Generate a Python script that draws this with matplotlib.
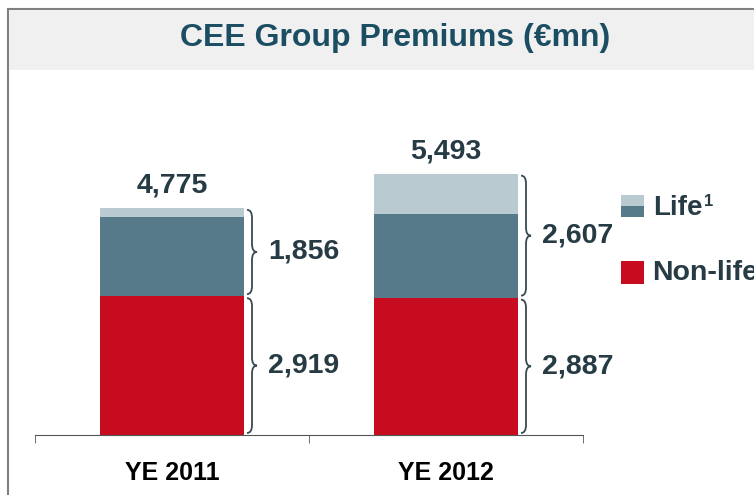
import matplotlib.pyplot as plt
import numpy as np
from matplotlib.patches import Rectangle, PathPatch
from matplotlib.path import Path

plt.rcParams['font.family'] = ['Liberation Sans', 'DejaVu Sans']

years = ["YE 2011", "YE 2012"]
non_life = [2919, 2887]
life = [1856, 2607]
life_light = [195, 840]
totals = [4775, 5493]

red = "#c80c1f"
teal = "#567a8a"
light = "#b9cbd1"
txt = "#263b44"

W, H = 754, 495
fig = plt.figure(figsize=(W / 100, H / 100), dpi=100)

# title band + frame
fig.patches.append(Rectangle((8 / W, -0.1), 1, (H - 9) / H + 0.1, transform=fig.transFigure,
                             facecolor="white", edgecolor="#808080", lw=1.5, zorder=-2))
fig.patches.append(Rectangle((9 / W, (H - 70) / H), 1, 60 / H, transform=fig.transFigure,
                             facecolor="#f0f0f0", edgecolor="none", zorder=-1))
fig.text(395 / W, 1 - 38 / H, "CEE Group Premiums (€mn)", ha="center", va="center",
         fontsize=23, fontweight="bold", color="#1b4e63")

ax = fig.add_axes([35 / W, 60 / H, 548 / W, 365 / H])
ax.patch.set_alpha(0)
ax.set_xlim(-0.5, 1.5)
ax.set_ylim(0, 365 * 21.02)

x = np.arange(len(years))
bw = 144 / 274
life_dark = [l - s for l, s in zip(life, life_light)]
ax.bar(x, non_life, bw, color=red)
ax.bar(x, life_dark, bw, bottom=non_life, color=teal)
ax.bar(x, life_light, bw, bottom=[n + d for n, d in zip(non_life, life_dark)], color=light)

px = 2 / 548          # data units per pixel in x
py = 21.02            # data units per pixel in y


def brace(x0, y0, y1, w=10 * px):
    ym = (y0 + y1) / 2
    r = min(8 * py, (y1 - y0) / 4)
    xm = x0 + w / 2
    verts = [(x0, y0), (xm, y0), (xm, y0 + r),
             (xm, ym - r), (xm, ym), (x0 + w, ym),
             (xm, ym), (xm, ym + r),
             (xm, y1 - r), (xm, y1), (x0, y1)]
    codes = [Path.MOVETO, Path.CURVE3, Path.CURVE3,
             Path.LINETO, Path.CURVE3, Path.CURVE3,
             Path.CURVE3, Path.CURVE3,
             Path.LINETO, Path.CURVE3, Path.CURVE3]
    ax.add_patch(PathPatch(Path(verts, codes), facecolor="none", edgecolor="#3a4a52", lw=1.3))


for i in range(len(years)):
    xr = x[i] + bw / 2 + 3 * px
    brace(xr, 2 * py, non_life[i] - 2 * py)
    brace(xr, non_life[i] + 2 * py, non_life[i] + life[i] - 2 * py)
    ax.text(xr + 21 * px, non_life[i] / 2, f"{non_life[i]:,}", ha="left", va="center",
            fontsize=20.5, fontweight="bold", color=txt)
    ax.text(xr + 21 * px, non_life[i] + life[i] / 2, f"{life[i]:,}", ha="left", va="center",
            fontsize=20.5, fontweight="bold", color=txt)
    ax.text(x[i], totals[i] + 9 * py, f"{totals[i]:,}", ha="center", va="bottom",
            fontsize=20.5, fontweight="bold", color=txt)

for s in ["top", "right", "left"]:
    ax.spines[s].set_visible(False)
ax.spines["bottom"].set_color("#555555")
ax.set_yticks([])
ax.set_xticks(x)
ax.set_xticklabels(years, fontsize=18, fontweight="bold", color="black")
ax.tick_params(axis="x", length=0, pad=19)
ax.set_xticks([-0.5, 0.5, 1.5], minor=True)
ax.tick_params(axis="x", which="minor", length=6, color="#555555", direction="out")

# legend
fig.patches.append(Rectangle((621 / W, 1 - 206 / H), 23 / W, 11 / H, transform=fig.transFigure,
                             facecolor=light, edgecolor="none"))
fig.patches.append(Rectangle((621 / W, 1 - 217 / H), 23 / W, 11 / H, transform=fig.transFigure,
                             facecolor=teal, edgecolor="none"))
fig.patches.append(Rectangle((621 / W, 1 - 284 / H), 23 / W, 23 / H, transform=fig.transFigure,
                             facecolor=red, edgecolor="none"))
fig.text(653 / W, 1 - 208 / H, "Life", ha="left", va="center", fontsize=20,
         fontweight="bold", color=txt)
fig.text(704 / W, 1 - 201 / H, "1", ha="left", va="center", fontsize=12,
         fontweight="bold", color=txt)
fig.text(652 / W, 1 - 273 / H, "Non-life", ha="left", va="center", fontsize=20.5,
         fontweight="bold", color=txt)

fig.savefig("out.png", dpi=100)
